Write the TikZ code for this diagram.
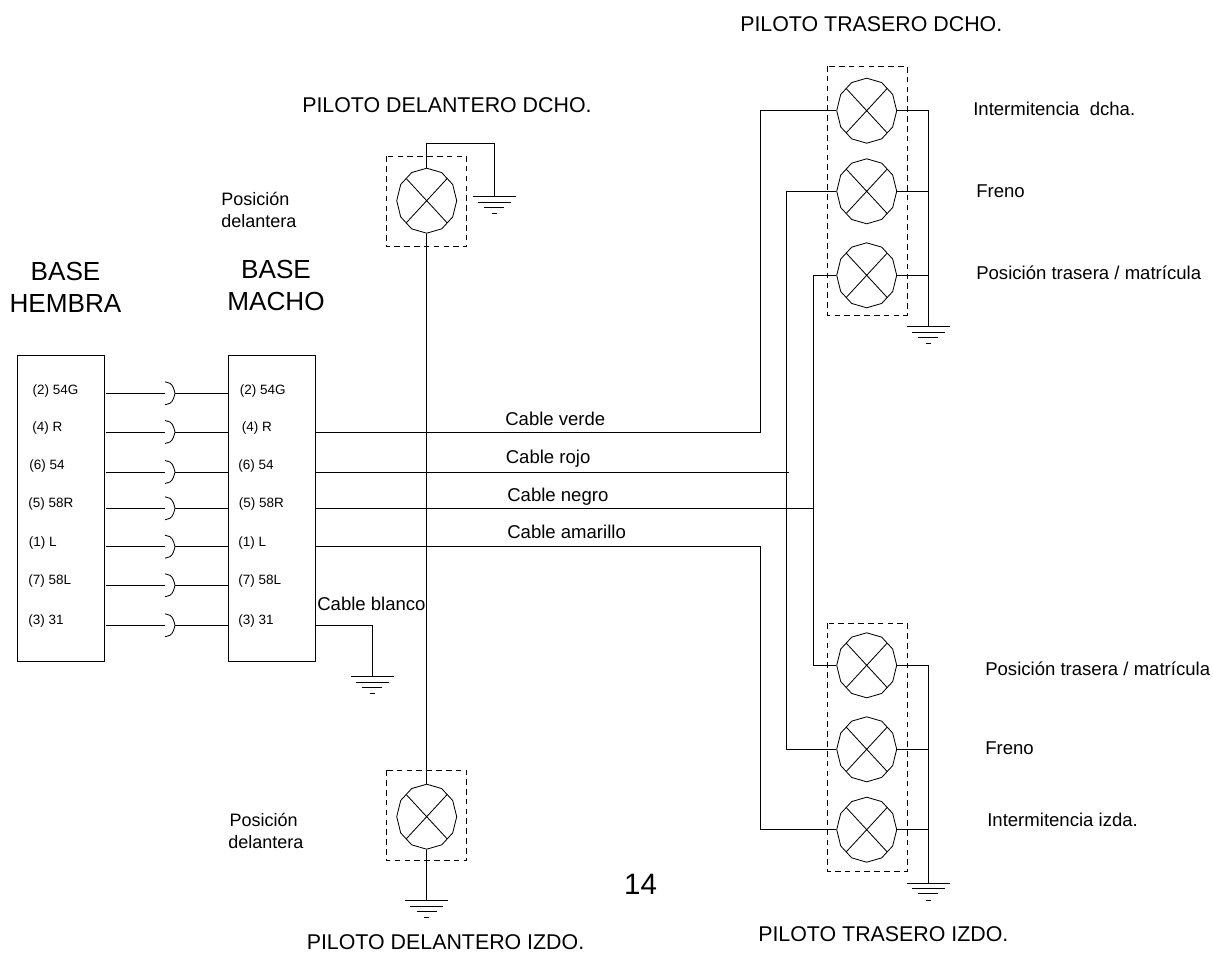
\documentclass[tikz,border=0pt]{standalone}
\usepackage{fontspec}
\setmainfont{Liberation Sans}
\usetikzlibrary{shapes.geometric}

\tikzset{
  wire/.style={line width=0.6pt},
  lamp/.style={draw,line width=0.6pt,shape=regular polygon,regular polygon sides=12,shape border rotate=15,
    minimum size=16.25mm,inner sep=0pt,xscale=0.923,transform shape,
    path picture={\draw[line width=0.6pt] (path picture bounding box.north west) -- (path picture bounding box.south east)
      (path picture bounding box.north east) -- (path picture bounding box.south west);}},
  dashbox/.style={line width=0.6pt,dash pattern=on 4pt off 3pt},
  conbox/.style={draw,line width=0.7pt,minimum width=21.8mm,minimum height=76.5mm,inner sep=0pt},
  pin/.style={anchor=west,inner sep=0pt,font=\fontsize{9.6}{11}\selectfont},
  cablelabel/.style={anchor=base west,inner sep=0pt,font=\fontsize{13.2}{15}\selectfont},
  small/.style={anchor=west,inner sep=0pt,align=left,font=\fontsize{12.8}{15.6}\selectfont},
  title/.style={anchor=west,inner sep=0pt,font=\fontsize{15.2}{18}\selectfont},
  base/.style={inner sep=0pt,align=center,font=\fontsize{18.6}{22.7}\selectfont},
  gnd/.pic={
    \draw[wire] (-21.5,0) -- (21.5,0);
    \draw[wire] (-16.5,5.3) -- (16.5,5.3);
    \draw[wire] (-10,10.5) -- (10,10.5);
    \draw[wire] (-2.5,17) -- (2.5,17);
  },
  plug/.pic={
    \draw[wire] (-10,-11.5) -- (-5,-10) .. controls (-2,-8) and (-1,-4) .. (0,0) .. controls (-1,4) and (-2,8) .. (-5,10) -- (-10,11.5);
  }
}

\begin{document}
\begin{tikzpicture}[x=0.25mm,y=-0.25mm]
\useasboundingbox (0,0) rectangle (1213,953);

% Connector bases
\node[conbox] (hembra) at (61,508.3) {};
\node[conbox] (macho) at (271.8,508.3) {};
\node[base] (thembra) at (65.5,287.5) {BASE\\HEMBRA};
\node[base] (tmacho) at (276,285.5) {BASE\\MACHO};

% Pins + plugs
\foreach \i/\y/\yt/\txt/\xa/\xb in {
  1/393.3/390.7/(2) 54G/32.3/239.5,
  2/432/428.5/(4) R/32/241.5,
  3/472/466.5/(6) 54/29/238,
  4/508.3/504.5/(5) 58R/28/238.5,
  5/546.7/543/(1) L/28.5/238,
  6/585.3/581/(7) 58L/28/238,
  7/625.3/621/(3) 31/28/238}{
  \node[pin] (ph\i) at (\xa,\yt) {\txt};
  \node[pin] (pm\i) at (\xb,\yt) {\txt};
  \coordinate (h\i) at (106,\y);
  \coordinate (m\i) at (228.3,\y);
  \coordinate (o\i) at (315.3,\y);
  \coordinate (s\i) at (175,\y);
  \draw[wire] (h\i) -- ++(59,0);
  \draw[wire] (s\i) -- (m\i);
  \pic at (s\i) {plug};
}

% Rear right lamps
\node[lamp] (rra) at (866.7,110.7) {};
\node[lamp] (rrb) at (866.7,191.3) {};
\node[lamp] (rrc) at (866.7,275.3) {};
\draw[dashbox] (827.7,66) rectangle (907,315);
\coordinate (gra) at (928.3,326.7);
\draw[wire] (rra.east) -- (928.3,110.7) -- (gra);
\draw[wire] (rrb.east) -- (928.3,191.3);
\draw[wire] (rrc.east) -- (928.3,275.3);
\pic at (gra) {gnd};

% Rear left lamps
\node[lamp] (rla) at (866.7,665.3) {};
\node[lamp] (rlb) at (866.7,749.3) {};
\node[lamp] (rlc) at (866.7,829.7) {};
\draw[dashbox] (827.7,623) rectangle (907,871.7);
\coordinate (grb) at (928.3,883.3);
\draw[wire] (rla.east) -- (928.3,665.3) -- (grb);
\draw[wire] (rlb.east) -- (928.3,749.3);
\draw[wire] (rlc.east) -- (928.3,829.7);
\pic at (grb) {gnd};

% Front lamps
\node[lamp] (fra) at (426.7,200.7) {};
\node[lamp] (fla) at (426.7,816.7) {};
\draw[dashbox] (386.3,156.3) rectangle (466.7,246.7);
\draw[dashbox] (386.3,770.3) rectangle (466.7,860.3);
\coordinate (gfr) at (494.3,196.7);
\coordinate (gfl) at (426.7,900.7);
\draw[wire] (fra.north) -- (426.7,143.3) -- (494.3,143.3) -- (gfr);
\draw[wire] (fra.south) -- (fla.north);
\draw[wire] (fla.south) -- (gfl);
\pic at (gfr) {gnd};
\pic at (gfl) {gnd};

% Cables
\draw[wire] (o2) -- (760,432) -- (760,110.7) -- (rra.west);
\draw[wire] (o3) -- (789,472);
\draw[wire] (786.7,191.3) -- (rrb.west);
\draw[wire] (786.7,191.3) -- (786.7,749.3) -- (rlb.west);
\draw[wire] (o4) -- (813.3,508.3);
\draw[wire] (rrc.west) -- (813.3,275.3) -- (813.3,665.3) -- (rla.west);
\draw[wire] (o5) -- (760,546.7) -- (760,829.7) -- (rlc.west);
\coordinate (gwh) at (372,676.7);
\draw[wire] (o7) -- (372,625.3) -- (gwh);
\pic at (gwh) {gnd};

% Cable labels
\node[cablelabel] (cverde) at (505,425) {Cable verde};
\node[cablelabel] (crojo) at (505.5,463.3) {Cable rojo};
\node[cablelabel] (cnegro) at (507,501.7) {Cable negro};
\node[cablelabel] (camarillo) at (507,538.3) {Cable amarillo};
\node[cablelabel] (cblanco) at (317,610) {Cable blanco};

% Lamp labels
\node[small] (posfr) at (221,209.5) {Posición\\delantera};
\node[small] (posfl) at (228,831) {\hspace{1pt}Posición\\delantera};
\node[cablelabel] (lra) at (973,115) {Intermitencia\ \ dcha.};
\node[cablelabel] (lrb) at (976,197.3) {Freno};
\node[cablelabel] (lrc) at (976,279.3) {Posición trasera / matrícula};
\node[cablelabel] (lla) at (985,675) {Posición trasera / matrícula};
\node[cablelabel] (llb) at (985,754) {Freno};
\node[cablelabel] (llc) at (987,826) {Intermitencia izda.};

% Titles
\node[title] (trr) at (740,24) {PILOTO TRASERO DCHO.};
\node[title] (tfr) at (302,105) {PILOTO DELANTERO DCHO.};
\node[title] (tfl) at (306.5,942.5) {PILOTO DELANTERO IZDO.};
\node[title] (trl) at (758,934) {PILOTO TRASERO IZDO.};
\node[inner sep=0pt,font=\fontsize{21}{24}\selectfont] (pagenum) at (640.5,884) {14};

\end{tikzpicture}
\end{document}
